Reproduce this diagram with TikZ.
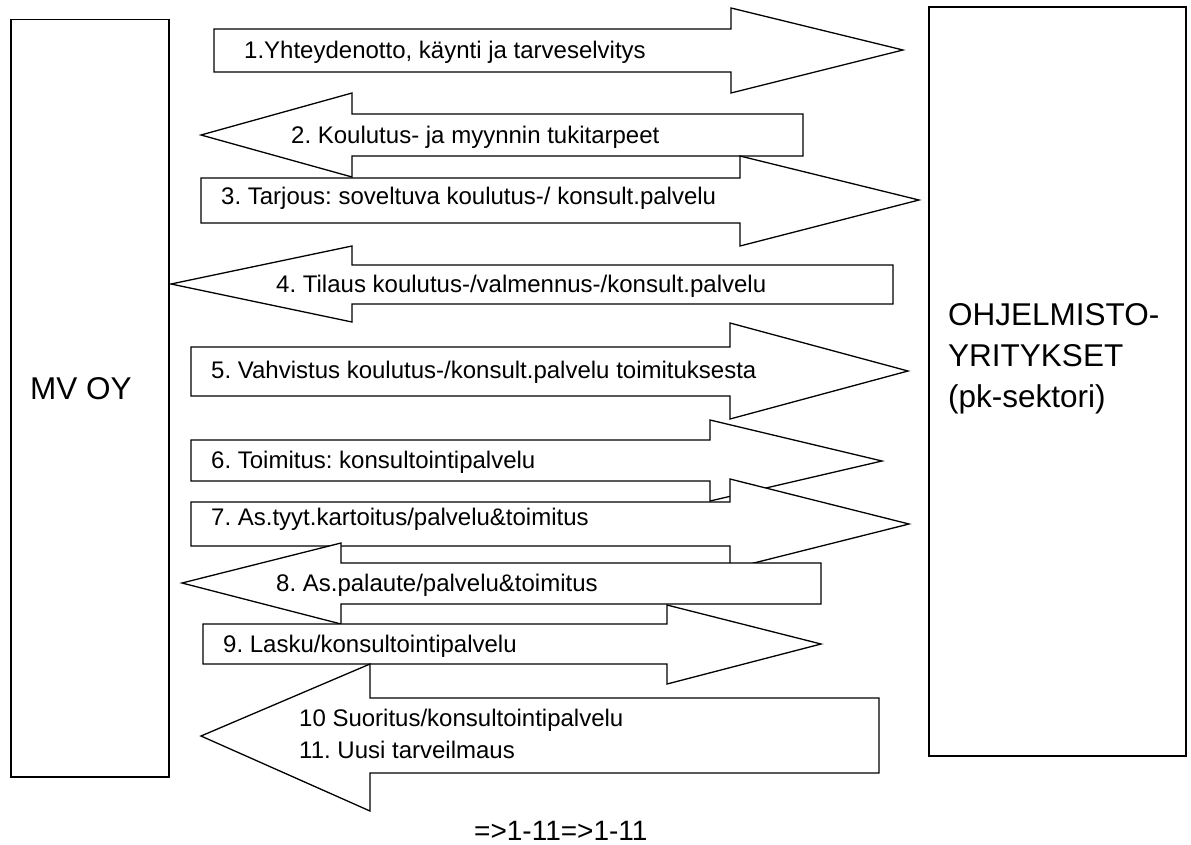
\documentclass[tikz,border=0pt]{standalone}
\usepackage{fontspec}
\setmainfont{Liberation Sans}
\frenchspacing

\begin{document}
\begin{tikzpicture}[
  x=1pt,y=-1pt,
  font=\fontsize{24}{29}\selectfont,
  frame/.style={draw,line width=1.6pt,inner sep=0pt},
  blk/.style={draw,fill=white,line width=1.3pt,line join=miter},
  lbl/.style={anchor=base west,inner sep=0pt},
  big/.style={lbl,font=\fontsize{31.5}{41}\selectfont,align=left}]
\useasboundingbox (0,0) rectangle (1191,844);
% the two parties
\node[frame,minimum width=158pt,minimum height=757.5pt] (mvbox) at (90,398.25) {};
\node[frame,minimum width=257pt,minimum height=749pt] (ohjbox) at (1057.5,381.5) {};
\node[big] (mv) at (30,399) {MV OY};
\node[big] (ohj) at (948,407) {OHJELMISTO-\\YRITYKSET\\(pk-sektori)};
% steps 1-11, later arrows lie on top
\draw[blk] (214,29) -- (731,29) -- (731,8) -- (903,50) -- (731,93) -- (731,72) -- (214,72) -- cycle;
\node[lbl] (yht) at (244,58) {1.Yhteydenotto, käynti ja tarveselvitys};
\draw[blk] (803,114) -- (352,114) -- (352,93) -- (201,135) -- (352,177) -- (352,156) -- (803,156) -- cycle;
\node[lbl] (koul) at (291,143) {2. Koulutus- ja myynnin tukitarpeet};
\draw[blk] (201,178) -- (740,178) -- (740,156) -- (919,200) -- (740,246) -- (740,223) -- (201,223) -- cycle;
\node[lbl] (tarj) at (221,204) {3. Tarjous: soveltuva koulutus-/ konsult.palvelu};
\draw[blk] (893,265) -- (352,265) -- (352,246) -- (171,284) -- (352,322) -- (352,304) -- (893,304) -- cycle;
\node[lbl] (til) at (276,292) {4. Tilaus koulutus-/valmennus-/konsult.palvelu};
\draw[blk] (191,347) -- (730,347) -- (730,323) -- (908,371) -- (730,419) -- (730,396) -- (191,396) -- cycle;
\node[lbl] (vahv) at (211,378) {5. Vahvistus koulutus-/konsult.palvelu toimituksesta};
\draw[blk] (191,440) -- (710,440) -- (710,420) -- (882,461) -- (710,501) -- (710,481) -- (191,481) -- cycle;
\node[lbl] (toim) at (211,468) {6. Toimitus: konsultointipalvelu};
\draw[blk] (191,502) -- (730,502) -- (730,479) -- (909,524) -- (730,569) -- (730,546) -- (191,546) -- cycle;
\node[lbl] (kart) at (211,525) {7. As.tyyt.kartoitus/palvelu\&toimitus};
\draw[blk] (821,563) -- (341,563) -- (341,543) -- (182,583) -- (341,624) -- (341,604) -- (821,604) -- cycle;
\node[lbl] (pal) at (276,591) {8. As.palaute/palvelu\&toimitus};
\draw[blk] (203,624) -- (667,624) -- (667,605) -- (821,644) -- (667,684) -- (667,664) -- (203,664) -- cycle;
\node[lbl] (lasku) at (223,652) {9. Lasku/konsultointipalvelu};
\draw[blk] (879,698) -- (370,698) -- (370,664) -- (201,736) -- (370,811) -- (370,773) -- (879,773) -- cycle;
\node[lbl] (suor) at (299,726) {10 Suoritus/konsultointipalvelu};
\node[lbl] (uusi) at (299,758) {11. Uusi tarveilmaus};
\node[lbl,font=\fontsize{28}{34}\selectfont] (loop) at (474,840) {=>1-11=>1-11};
\end{tikzpicture}
\end{document}
